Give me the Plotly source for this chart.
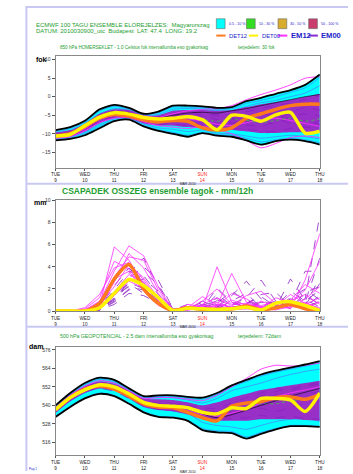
import plotly.graph_objects as go

# ---------------------------------------------------------------- data
STEPS = [0, 0.5, 1, 1.5, 2, 2.5, 3, 3.5, 4, 4.5, 5, 5.5, 6, 6.5, 7, 7.5, 8, 8.5, 9]
DAY_NAMES = ["TUE", "WED", "THU", "FRI", "SAT", "SUN", "MON", "TUE", "WED", "THU"]
DAY_NUMS = ["9", "10", "11", "12", "13", "14", "15", "16", "17", "18"]
DAY_TICKS = [0, 1, 2, 3, 4, 5, 6, 7, 8, 9]

# 850 hPa temperature (Celsius)
T_TOP = [-9.0, -8.2, -6.5, -3.4, -2.2, -3.0, -4.6, -4.0, -2.4, -2.4, -2.6, -3.0, -2.8, -1.2, -0.3, 0.8, 1.8, 3.2, 6.0]
T_BOT = [-11.8, -11.4, -10.4, -8.5, -6.6, -6.2, -8.0, -9.2, -10.0, -10.8, -9.8, -10.5, -10.8, -11.8, -12.9, -12.0, -11.6, -12.0, -12.9]
T_CORE_LO = [-11.2, -10.8, -9.4, -7.2, -5.8, -5.8, -7.2, -7.8, -7.8, -8.2, -8.6, -8.8, -9.0, -9.4, -9.8, -9.8, -9.6, -9.6, -9.8]
T_CORE_HI = [-9.6, -9.0, -7.2, -4.6, -3.4, -3.6, -5.0, -5.0, -3.8, -3.6, -3.6, -3.8, -3.6, -2.8, -2.0, -1.4, -0.8, 0.0, 0.8]
T_DET12 = [-10.6, -10.0, -8.0, -5.8, -4.8, -5.2, -6.2, -6.8, -6.4, -6.6, -8.4, -9.0, -8.4, -5.8, -4.6, -3.4, -2.4, -2.0, -2.0]
T_DET00 = [-10.6, -10.2, -7.8, -5.5, -4.3, -4.7, -5.6, -6.0, -5.8, -5.4, -6.2, -8.9, -5.0, -5.3, -6.6, -4.9, -4.2, -9.8, -9.3]
T_EM00 = [
    [-10.2, -9.6, -7.6, -5.0, -3.8, -4.2, -5.6, -5.4, -4.4, -4.0, -4.4, -5.2, -4.6, -4.0, -3.2, -2.4, -1.6, -0.8, 0.2],
    [-11.0, -10.6, -8.8, -6.6, -5.4, -5.6, -6.8, -7.4, -7.4, -7.8, -8.2, -8.4, -8.6, -8.8, -9.2, -9.4, -8.6, -8.2, -8.8],
    [-10.6, -10.0, -8.2, -5.8, -4.6, -5.0, -6.2, -6.6, -6.0, -5.6, -6.8, -7.2, -6.2, -5.8, -6.6, -7.2, -5.4, -4.6, -5.2],
    [-10.8, -10.2, -8.4, -6.0, -4.8, -5.4, -6.0, -6.2, -5.6, -6.2, -5.4, -4.6, -5.8, -6.8, -5.2, -4.4, -6.8, -8.2, -6.4],
    [-10.4, -9.8, -8.0, -5.4, -4.2, -4.4, -5.8, -6.0, -5.2, -4.6, -5.0, -6.2, -7.0, -7.6, -8.0, -6.6, -4.2, -3.0, -3.6],
    [-10.9, -10.4, -8.6, -6.2, -5.0, -5.2, -6.6, -7.0, -6.6, -6.8, -7.4, -7.8, -7.0, -6.0, -4.6, -5.6, -7.2, -6.4, -7.6],
]
T_OUTER = [
    [-9.4, -8.6, -6.9, -3.8, -2.6, -3.3, -4.8, -4.4, -2.8, -2.8, -3.0, -3.4, -3.2, -1.8, -1.0, 0.0, 1.2, 2.4, 5.2],
    [-11.6, -11.1, -10.0, -8.1, -6.4, -6.0, -7.8, -8.9, -9.6, -10.4, -9.6, -10.2, -10.4, -11.2, -12.2, -11.6, -11.2, -11.6, -12.4],
    [-10.0, -9.4, -7.4, -4.6, -3.2, -3.6, -5.0, -4.8, -3.4, -3.2, -3.4, -3.8, -3.8, -2.6, -1.6, -1.0, 0.0, 1.0, 3.0],
    [-11.4, -10.8, -9.6, -7.6, -6.0, -5.9, -7.4, -8.4, -8.8, -9.4, -9.0, -9.8, -10.0, -10.6, -11.2, -10.8, -10.4, -10.8, -11.4],
]
T_EM12 = [
    [-10.4, -9.8, -8.0, -5.4, -4.4, -4.6, -5.2, -5.6, -4.6, -3.8, -3.4, -3.2, -2.4, -0.8, 0.6, 1.8, 3.2, 5.0, 5.4],
    [-11.2, -10.8, -9.2, -7.0, -5.8, -5.6, -6.8, -7.8, -8.2, -8.6, -8.0, -8.8, -10.0, -11.8, -13.8, -12.6, -11.0, -10.6, -11.0],
    [-10.9, -10.5, -8.6, -6.1, -5.0, -5.2, -6.1, -6.6, -6.4, -6.0, -6.6, -7.4, -7.8, -7.0, -6.2, -5.8, -6.4, -7.2, -8.0],
]
T_FREQ = [-10.5, -10.0, -8.0, -5.4, -4.4, -4.8, -6.0, -6.4, -5.8, -5.6, -6.2, -6.6, -6.0, -6.4, -7.0, -6.4, -5.8, -6.6, -6.0]
T_CTRL = [-10.3, -9.7, -7.7, -5.2, -4.0, -4.4, -5.6, -5.8, -5.0, -4.4, -4.2, -4.4, -3.8, -3.2, -2.4, -1.6, -0.8, 0.0, 0.6]

# 12-hourly precipitation (mm/12h)
P_DET12 = [0, 0, 0, 0.7, 2.9, 4.2, 2.0, 0.7, 0.05, 0.3, 0.15, 0.15, 0.2, 0.45, 0.1, 0.3, 0.6, 0.2, 0.05]
P_DET00 = [0, 0, 0, 0.3, 1.6, 2.85, 2.3, 1.2, 0.05, 0.25, 0.2, 0.15, 0.2, 0.35, 0.1, 0.7, 0.85, 0.5, 0.05]
P_EM12 = [
    [0, 0, 0, 0.5, 5.8, 4.6, 2.4, 1.0, 0, 0.2, 0.5, 0.3, 0.1, 0.2, 0, 0.3, 0.5, 0.8, 0.2],
    [0, 0, 0.1, 0.8, 3.6, 5.9, 5.0, 2.2, 0.1, 0.3, 1.3, 0.6, 0.3, 0.6, 0.4, 0.2, 0.9, 1.5, 0.6],
    [0, 0, 0, 0.3, 2.6, 5.2, 3.9, 1.6, 0, 0.1, 0.2, 4.0, 0.8, 0.3, 0.2, 0.1, 0.4, 0.3, 0.1],
    [0, 0, 0.2, 1.2, 4.5, 3.8, 2.0, 0.6, 0, 0.4, 0.3, 0.5, 3.4, 0.8, 0.3, 0.6, 0.2, 2.8, 7.0],
    [0, 0, 0, 0.4, 3.1, 4.9, 4.6, 1.9, 0.1, 0.2, 0.6, 1.2, 0.5, 1.4, 1.8, 0.7, 0.5, 0.6, 1.2],
    [0, 0, 0.1, 0.6, 2.2, 4.2, 3.0, 1.2, 0, 0.3, 0.1, 0.2, 1.0, 0.5, 0.3, 1.2, 0.8, 1.9, 4.5],
    [0, 0, 0, 0.2, 1.8, 3.3, 2.6, 0.9, 0, 0.6, 0.4, 0.8, 0.3, 0.2, 0.9, 0.4, 1.5, 0.7, 0.3],
    [0, 0, 0.3, 1.5, 3.9, 4.4, 2.8, 1.0, 0.1, 0.2, 0.9, 2.0, 0.6, 0.7, 0.2, 0.3, 0.3, 1.1, 2.2],
    [0, 0, 0, 0.3, 1.4, 2.7, 2.1, 0.8, 0, 0.1, 0.3, 0.4, 1.6, 1.1, 0.4, 0.2, 0.6, 0.4, 0.8],
    [0, 0, 0.1, 0.9, 2.9, 3.6, 1.8, 0.5, 0, 0.2, 0.2, 0.6, 0.4, 0.3, 0.5, 0.8, 1.0, 2.4, 1.6],
]
P_EM00 = [
    [0, 0, 0, 0.2, 1.6, 3.4, 4.8, 2.2, 0.1, 0.3, 0.5, 1.0, 0.6, 1.2, 2.8, 0.9, 0.6, 1.1, 8.7],
    [0, 0, 0, 0.1, 1.2, 3.0, 4.0, 2.8, 0.2, 0.1, 0.2, 2.1, 0.8, 0.4, 0.6, 0.3, 2.9, 1.0, 0.4],
    [0, 0, 0, 0.3, 2.0, 3.6, 3.2, 1.5, 0, 0.4, 0.6, 0.3, 1.4, 2.7, 1.1, 0.5, 0.7, 3.6, 3.6],
    [0, 0, 0, 0.2, 1.0, 2.4, 2.9, 1.8, 0.1, 0.2, 0.8, 0.5, 0.3, 0.6, 1.5, 1.7, 0.4, 0.8, 4.8],
    [0, 0, 0, 0.1, 0.8, 2.0, 3.5, 2.4, 0.2, 0.1, 0.3, 0.7, 1.8, 0.9, 0.4, 0.3, 1.2, 2.0, 1.0],
    [0, 0, 0, 0.4, 1.8, 2.9, 2.3, 1.1, 0, 0.5, 0.2, 1.5, 0.5, 0.3, 0.8, 0.6, 0.9, 0.5, 2.5],
    [0, 0, 0, 0.2, 1.4, 2.2, 1.9, 0.9, 0, 0.2, 0.4, 0.2, 0.9, 1.6, 0.3, 1.0, 0.3, 1.4, 0.6],
    [0, 0, 0, 0.3, 2.3, 3.9, 2.6, 1.3, 0.1, 0.3, 0.1, 0.6, 0.4, 0.2, 1.0, 0.4, 1.8, 0.9, 1.9],
    [0, 0, 0, 0.1, 0.6, 1.6, 1.4, 0.7, 0, 0.1, 0.5, 0.9, 0.2, 0.5, 0.2, 0.8, 0.5, 0.3, 0.9],
    [0, 0, 0, 0.2, 1.1, 2.6, 2.0, 1.0, 0.1, 0.6, 0.3, 0.4, 0.7, 0.4, 0.6, 0.2, 1.1, 0.6, 3.0],
    [0, 0, 0, 0.1, 0.9, 1.9, 2.4, 1.2, 0, 0.2, 0.9, 0.3, 0.5, 1.0, 0.5, 0.9, 0.2, 1.7, 2.2],
    [0, 0, 0, 0.2, 1.5, 2.5, 1.6, 0.6, 0, 0.3, 0.2, 1.2, 0.3, 0.7, 1.3, 0.4, 0.8, 0.4, 1.4],
]

# 500 hPa geopotential (dam)
Z_TOP = [540.0, 548.0, 554.5, 558.0, 556.5, 551.0, 546.0, 546.5, 546.5, 545.5, 545.0, 548.0, 553.0, 556.5, 560.0, 562.5, 564.5, 566.5, 568.7]
Z_BOT = [532.5, 539.0, 544.5, 547.5, 546.0, 541.0, 535.5, 532.5, 532.0, 530.0, 524.0, 522.5, 522.0, 518.5, 521.5, 524.5, 526.5, 526.5, 526.0]
Z_CORE_LO = [535.0, 542.5, 548.0, 551.0, 549.5, 544.5, 539.0, 537.0, 536.0, 534.0, 531.0, 530.0, 530.0, 530.0, 531.0, 531.0, 531.0, 530.5, 530.0]
Z_CORE_HI = [539.0, 547.0, 552.5, 555.5, 554.0, 549.5, 544.5, 544.0, 543.5, 542.0, 540.0, 542.0, 545.0, 547.5, 550.0, 551.5, 553.0, 554.5, 556.0]
Z_DET12 = [537.0, 545.0, 550.5, 552.5, 550.5, 546.0, 541.0, 539.0, 538.5, 535.5, 532.0, 530.0, 539.5, 541.5, 542.5, 545.0, 545.5, 544.0, 547.0]
Z_DET00 = [537.3, 545.0, 550.0, 553.3, 552.0, 547.5, 542.0, 540.0, 539.5, 538.5, 535.5, 534.5, 538.4, 538.0, 544.5, 544.5, 543.5, 536.0, 548.0]
Z_OUTER = [
    [539.0, 547.0, 553.5, 557.0, 555.5, 550.0, 545.0, 545.5, 545.5, 544.5, 544.0, 547.0, 552.0, 555.5, 559.0, 561.5, 563.5, 565.5, 567.5],
    [533.0, 539.5, 545.0, 548.0, 546.5, 541.5, 536.0, 533.0, 532.5, 530.5, 525.0, 523.5, 523.0, 519.5, 522.5, 525.0, 527.0, 527.0, 526.5],
    [535.5, 543.0, 548.5, 551.5, 550.0, 545.0, 540.0, 538.0, 537.0, 535.0, 529.0, 527.0, 526.0, 524.5, 527.0, 529.5, 531.0, 532.0, 529.5],
    [538.5, 546.5, 552.5, 556.0, 554.5, 549.5, 545.0, 545.5, 545.0, 543.5, 541.5, 544.5, 549.5, 552.0, 554.5, 557.5, 560.0, 562.0, 563.5],
]
Z_EM00 = [
    [537.5, 545.5, 551.0, 554.0, 552.5, 548.0, 543.0, 541.0, 540.5, 539.5, 537.0, 536.0, 539.0, 542.0, 546.0, 549.0, 551.0, 553.0, 555.0],
    [536.5, 544.5, 549.5, 552.0, 550.5, 546.0, 540.5, 538.5, 538.0, 536.5, 533.0, 531.0, 531.5, 532.0, 533.5, 532.0, 533.0, 531.5, 531.0],
    [537.0, 545.0, 550.5, 553.0, 551.5, 547.0, 542.0, 540.0, 539.0, 538.0, 535.0, 534.0, 536.0, 538.0, 540.0, 542.0, 545.0, 547.0, 549.0],
    [538.0, 546.0, 551.5, 554.5, 553.0, 548.5, 543.5, 541.5, 541.0, 540.0, 538.5, 538.0, 541.5, 545.0, 548.0, 551.0, 550.0, 552.0, 554.0],
    [536.0, 543.5, 548.5, 551.0, 549.0, 544.5, 539.5, 537.5, 537.0, 535.5, 532.0, 531.0, 533.5, 536.5, 538.0, 536.0, 538.5, 541.0, 543.0],
]
Z_EM12 = [
    [538.5, 546.5, 552.5, 556.0, 554.5, 549.5, 544.5, 545.0, 545.0, 544.0, 543.0, 546.5, 552.0, 557.5, 563.5, 566.0, 565.5, 566.0, 567.5],
    [536.5, 544.0, 549.5, 552.5, 551.0, 546.5, 541.0, 539.0, 538.5, 537.0, 534.0, 533.0, 535.0, 537.5, 541.5, 545.5, 548.0, 550.0, 552.0],
]
Z_FREQ = [537.0, 545.0, 550.0, 553.0, 551.5, 547.0, 541.5, 539.5, 539.0, 538.0, 535.5, 535.0, 537.0, 539.0, 541.0, 541.0, 543.0, 544.0, 546.0]
Z_CTRL = [537.2, 545.0, 550.0, 552.8, 551.2, 546.5, 541.5, 539.5, 539.0, 537.5, 534.5, 532.0, 534.0, 537.0, 540.0, 543.0, 546.0, 548.5, 551.0]

# ---------------------------------------------------------------- styling
W, H = 353, 474
CYAN = "#00FFFF"
PURPLE_FILL = "#9830C8"
PURPLE = "#8A1FC0"
MAGENTA = "#FF30FF"
BLUE = "#4C7DFF"
ORANGE = "#FF7A1A"
YELLOW = "#FFF200"
GREEN_TXT = "#1E9E32"
FRAME = "#C8C8F2"
FONT = "Liberation Sans"


def fx(px):
    return px / W


def fy(py):
    return 1 - py / H


fig = go.Figure()


def line(x, y, ax, color, width=0.8, dash=None, shape="spline", fill=None, fillcolor=None):
    fig.add_trace(go.Scatter(
        x=x, y=y, mode="lines", xaxis="x" + ax, yaxis="y" + ax,
        line=dict(color=color, width=width, dash=dash, shape=shape, smoothing=0.7),
        fill=fill, fillcolor=fillcolor, hoverinfo="skip", showlegend=False,
    ))


def band(ax, lo, hi, color):
    line(STEPS, lo, ax, "rgba(0,0,0,0)", width=0)
    line(STEPS, hi, ax, "rgba(0,0,0,0)", width=0, fill="tonexty", fillcolor=color)


# ---- panel 1 : 850 hPa temperature
band("", T_BOT, T_TOP, CYAN)
for m in T_OUTER:
    line(STEPS, m, "", BLUE, 0.7)
band("", T_CORE_LO, T_CORE_HI, PURPLE_FILL)
for m in T_EM00:
    line(STEPS, m, "", PURPLE, 0.8, dash="dash")
for m in T_EM12:
    line(STEPS, m, "", MAGENTA, 0.9)
line(STEPS, T_FREQ, "", "#33CC33", 0.8, dash="dot")
line(STEPS, T_CTRL, "", "#000000", 0.6)
line(STEPS, T_TOP, "", "#000000", 1.8)
line(STEPS, T_BOT, "", "#000000", 1.8)
line(STEPS, T_DET12, "", ORANGE, 3.5)
line(STEPS, T_DET00, "", YELLOW, 3.5)

# ---- panel 2 : precipitation
for m in P_EM00:
    line(STEPS, m, "2", PURPLE, 0.8, dash="dash", shape="linear")
for m in P_EM12:
    line(STEPS, m, "2", MAGENTA, 0.8, shape="linear")
line(STEPS, P_DET12, "2", ORANGE, 3.5, shape="spline")
line(STEPS, P_DET00, "2", YELLOW, 3.5, shape="spline")

# ---- panel 3 : 500 hPa geopotential
band("3", Z_BOT, Z_TOP, CYAN)
for m in Z_OUTER:
    line(STEPS, m, "3", BLUE, 0.7)
band("3", Z_CORE_LO, Z_CORE_HI, PURPLE_FILL)
for m in Z_EM00:
    line(STEPS, m, "3", PURPLE, 0.8, dash="dash")
for m in Z_EM12:
    line(STEPS, m, "3", MAGENTA, 0.9)
line(STEPS, Z_FREQ, "3", "#33CC33", 0.8, dash="dot")
line(STEPS, Z_CTRL, "3", "#000000", 0.6)
line(STEPS, Z_TOP, "3", "#000000", 1.8)
line(STEPS, Z_BOT, "3", "#000000", 1.8)
line(STEPS, Z_DET12, "3", ORANGE, 3.5)
line(STEPS, Z_DET00, "3", YELLOW, 3.5)

# ---------------------------------------------------------------- axes
tick_text = []
for d, n in zip(DAY_NAMES, DAY_NUMS):
    if d == "SUN":
        tick_text.append(f"<span style='color:#FF2020'>{d}<br>{n}</span>")
    else:
        tick_text.append(f"{d}<br>{n}")

xdom = [fx(52), fx(324)]
common_x = dict(
    range=[0, 9], domain=xdom, tickvals=DAY_TICKS, ticktext=tick_text,
    tickfont=dict(family=FONT, size=4.6, color="#222"), ticks="outside", ticklen=2,
    tickcolor="#555", showline=True, linecolor="#888", linewidth=1, mirror=True,
    showgrid=False, zeroline=False, fixedrange=True,
    title=dict(text="MAR 2010", font=dict(family=FONT, size=3.4, color="#222"), standoff=0),
)
common_y = dict(
    tickfont=dict(family=FONT, size=5, color="#333"), ticks="outside", ticklen=3,
    tickcolor="#555", showline=True, linecolor="#888", linewidth=1, mirror=True,
    showgrid=False, zeroline=False, fixedrange=True,
)

fig.update_layout(
    width=W, height=H, margin=dict(l=0, r=0, t=0, b=0),
    paper_bgcolor="white", plot_bgcolor="white", showlegend=False,
    xaxis=dict(common_x, anchor="y"),
    yaxis=dict(common_y, anchor="x", domain=[fy(167), fy(54)], range=[-19.2, 10.9],
               tickvals=[-15, -10, -5, 0, 5, 10]),
    xaxis2=dict(common_x, anchor="y2"),
    yaxis2=dict(common_y, anchor="x2", domain=[fy(312), fy(200)], range=[0, 10],
                tickvals=[0, 2, 4, 6, 8, 10]),
    xaxis3=dict(common_x, anchor="y3"),
    yaxis3=dict(common_y, anchor="x3", domain=[fy(458), fy(348)], range=[507.7, 578.1],
                tickvals=[516, 528, 540, 552, 564, 576]),
)

# ---------------------------------------------------------------- page frame
shapes = [
    dict(type="line", xref="paper", yref="paper", x0=fx(22), x1=fx(22), y0=fy(3), y1=0,
         line=dict(color=FRAME, width=2)),
    dict(type="line", xref="paper", yref="paper", x0=fx(22), x1=1, y0=fy(4), y1=fy(4),
         line=dict(color=FRAME, width=2)),
    dict(type="line", xref="paper", yref="paper", x0=fx(22), x1=1, y0=fy(183), y1=fy(183),
         line=dict(color=FRAME, width=2)),
    dict(type="line", xref="paper", yref="paper", x0=fx(22), x1=1, y0=fy(328), y1=fy(328),
         line=dict(color=FRAME, width=2)),
]

annotations = []


def text(x, y, s, size, color, bold=False, anchor="left"):
    annotations.append(dict(
        x=fx(x), y=fy(y), xref="paper", yref="paper", xanchor=anchor, yanchor="middle",
        text=f"<b>{s}</b>" if bold else s, showarrow=False,
        font=dict(family=FONT, size=size, color=color),
    ))


# header
text(30, 22.5, "ECMWF 100 TAGU ENSEMBLE ELOREJELZES:&nbsp;&nbsp;Magyarorszag", 6, GREEN_TXT)
text(30, 28.5, "DATUM: 2010030900_utc&nbsp;&nbsp;Budapest&nbsp;&nbsp;LAT: 47.4&nbsp;&nbsp;LONG: 19.2", 6, GREEN_TXT)

# legend: frequency boxes and run lines
LEG_BOXES = [(217.5, "#00FFFF", "0.5 - 10 %"), (248.5, "#33DD22", "10 - 30 %"),
             (281.0, "#D8AC2C", "30 - 50 %"), (312.5, "#C83C6E", "50 - 100 %")]
for x0, col, lab in LEG_BOXES:
    shapes.append(dict(type="rect", xref="paper", yref="paper", x0=fx(x0), x1=fx(x0 + 9),
                       y0=fy(26), y1=fy(16), fillcolor=col, line=dict(color="#666", width=0.6)))
    text(x0 + 10.5, 21.5, lab, 3.6, "#1C1CC8")
LEG_LINES = [(217.5, ORANGE, "DET12", 5.8, False), (251.0, YELLOW, "DET00", 5.8, False),
             (281.0, MAGENTA, "EM12", 7.6, True), (312.5, "#8A2BD0", "EM00", 7.6, True)]
for x0, col, lab, sz, b in LEG_LINES:
    shapes.append(dict(type="line", xref="paper", yref="paper", x0=fx(x0), x1=fx(x0 + 9.5),
                       y0=fy(33), y1=fy(33), line=dict(color=col, width=2)))
    text(x0 + 11, 33, lab, sz, "#1C1CC8", bold=b)

# panel titles
text(55, 45, "850 hPa HOMERSEKLET - 1.0 Celsius fok intervallumba eso gyakorisag", 4.6, GREEN_TXT)
text(238, 45, "terjedelem: 30 fok", 4.6, GREEN_TXT)
text(57, 190, "CSAPADEK OSSZEG ensemble tagok - mm/12h", 8.5, GREEN_TXT, bold=True)
text(55, 337, "500 hPa GEOPOTENCIAL - 2.5 dam intervallumba eso gyakorisag", 5.2, GREEN_TXT)
text(238, 337, "terjedelem: 72dam", 5.2, GREEN_TXT)

# unit labels, kept clear of the top tick labels
text(37.5, 57, "fok", 7, "#000", bold=True, anchor="center")
text(36.5, 202, "mm", 7, "#000", bold=True, anchor="center")
text(32, 348, "dam", 7, "#000", bold=True, anchor="center")
text(23, 472, "Pag 1", 3, "#2020D0")

fig.update_layout(shapes=shapes, annotations=annotations)
fig.write_html("out.html")
